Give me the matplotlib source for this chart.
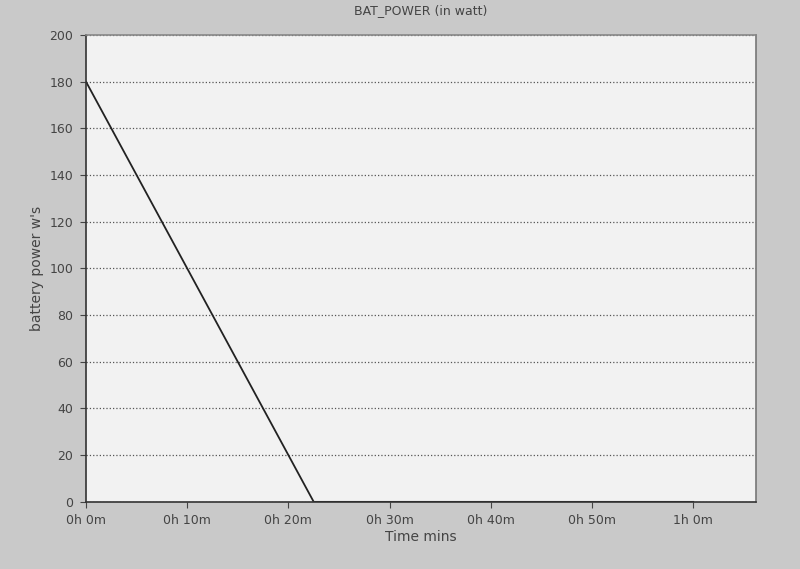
import numpy as np
import matplotlib.pyplot as plt
from matplotlib.ticker import FuncFormatter

# battery power over time (minutes, watts)
time_min = [0, 22.5, 60]
power_w = [180, 0, 0]
x_ticks = [0, 10, 20, 30, 40, 50, 60]
y_ticks = [0, 20, 40, 60, 80, 100, 120, 140, 160, 180, 200]


def hm(v, pos):
    v = int(round(v))
    return '%dh %dm' % (v // 60, v % 60)


fig = plt.figure(figsize=(8, 5.69), dpi=100, facecolor='#c9c9c9')
ax = fig.add_axes([0.1075, 0.118, 0.8375, 0.8205])
ax.set_facecolor('#f2f2f2')

ax.plot(time_min, power_w, color='#222222', lw=1.3)

ax.set_xlim(0, 66.2)
ax.set_ylim(0, 200)
ax.set_xticks(x_ticks)
ax.set_yticks(y_ticks)
ax.xaxis.set_major_formatter(FuncFormatter(hm))
ax.yaxis.grid(True, linestyle=':', color='#555555', lw=0.9)
ax.tick_params(labelsize=9, colors='#444444', direction='out', length=4, pad=5)
for s in ax.spines.values():
    s.set_color('#333333')
    s.set_linewidth(1.2)
ax.spines['top'].set_color('#888888')
ax.spines['right'].set_color('#777777')

ax.set_title('BAT_POWER (in watt)', fontsize=9, color='#444444', pad=15)
ax.set_xlabel('Time mins', fontsize=10, color='#444444', labelpad=2)
ax.set_ylabel("battery power w's", fontsize=10, color='#444444', labelpad=4)

fig.savefig('out.png', facecolor=fig.get_facecolor())
